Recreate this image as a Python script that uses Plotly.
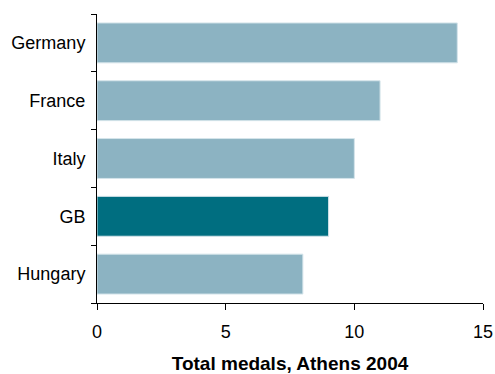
import plotly.graph_objects as go

# Medal totals per country (top to bottom as displayed)
countries = ["Germany", "France", "Italy", "GB", "Hungary"]
medals = [14, 11, 10, 9, 8]
highlight = "GB"

x_ticks = [0, 5, 10, 15]

light = "#8cb3c2"
dark = "#006e80"
colors = [dark if c == highlight else light for c in countries]

font_family = "Liberation Sans, Arial, sans-serif"

fig = go.Figure(
    go.Bar(
        y=countries,
        x=medals,
        orientation="h",
        marker=dict(color=colors, line=dict(color="#d4e4ea", width=1)),
        hoverinfo="x+y",
    )
)

fig.update_layout(
    width=495,
    height=374,
    margin=dict(l=97, r=12, t=14, b=71),
    paper_bgcolor="white",
    plot_bgcolor="white",
    bargap=0.31,
    showlegend=False,
    font=dict(family=font_family, size=18, color="#000000"),
)

fig.update_yaxes(
    type="category",
    categoryorder="array",
    categoryarray=countries[::-1],
    tickson="boundaries",
    ticks="outside",
    ticklen=5,
    tickwidth=1,
    tickcolor="#000000",
    showline=True,
    linecolor="#000000",
    linewidth=1,
    showgrid=False,
    automargin=False,
    ticklabelstandoff=7,
    tickfont=dict(size=18),
)

fig.update_xaxes(
    range=[0, 15],
    tickmode="array",
    tickvals=x_ticks,
    ticktext=[str(v) for v in x_ticks],
    ticks="outside",
    ticklen=6,
    tickwidth=1,
    tickcolor="#000000",
    showline=True,
    linecolor="#000000",
    linewidth=1,
    showgrid=False,
    zeroline=False,
    automargin=False,
    ticklabelstandoff=6,
    tickfont=dict(size=18),
    title=dict(
        text="<b>Total medals, Athens 2004</b>",
        font=dict(size=19),
        standoff=22,
    ),
)

fig.write_html("out.html")
